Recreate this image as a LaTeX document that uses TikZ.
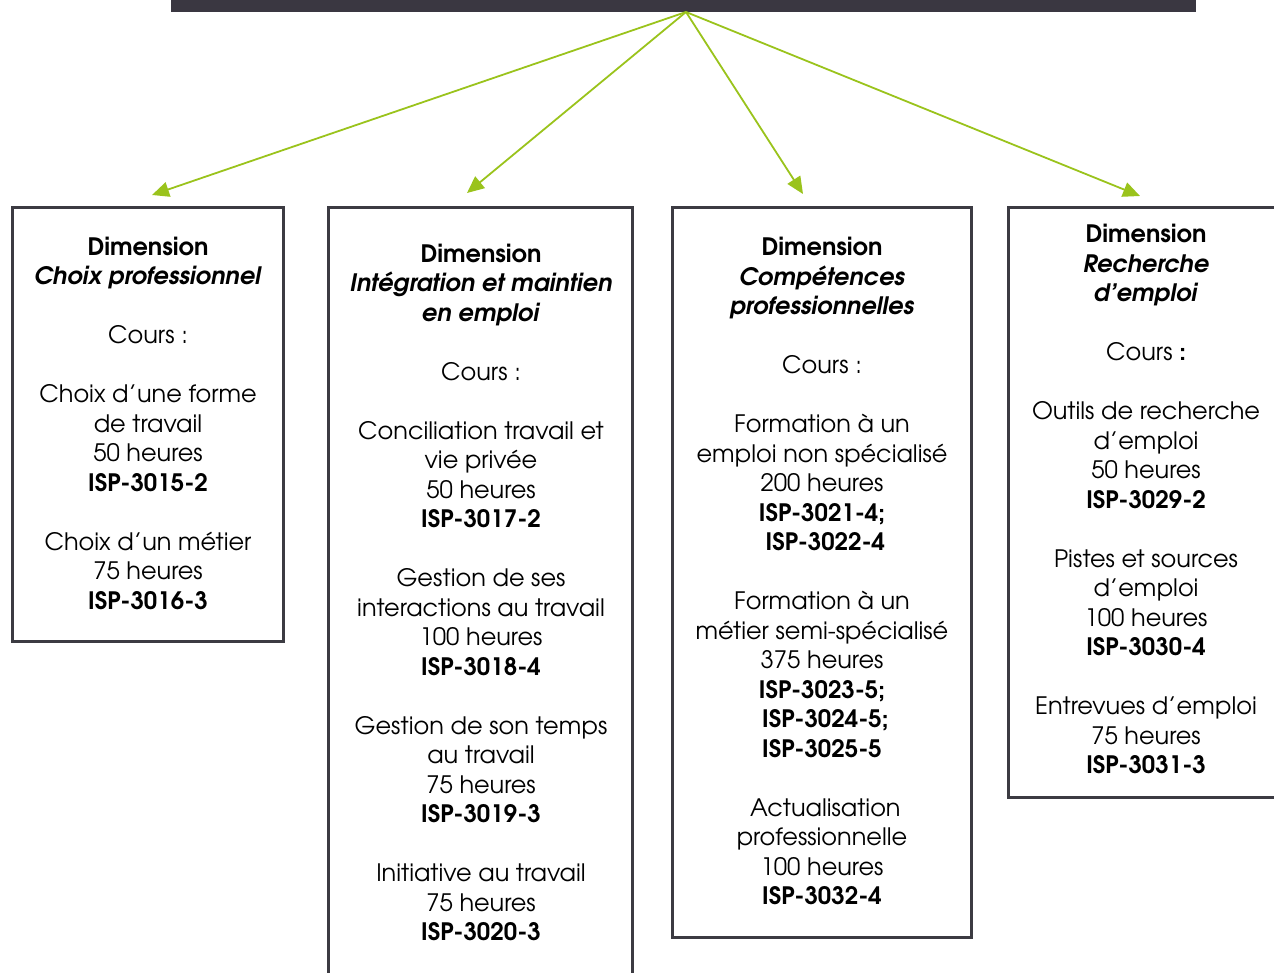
\documentclass[tikz,border=0pt]{standalone}
\usepackage{fontspec}
\setmainfont{TeX Gyre Adventor}
\usetikzlibrary{arrows.meta}
\definecolor{barc}{HTML}{3A3741}
\definecolor{arrc}{HTML}{9AC31C}
\definecolor{framec}{HTML}{3C3B42}
\begin{document}
\begin{tikzpicture}[x=1pt,y=-1pt,
  boxframe/.style={draw=framec,line width=3.5pt,fill=none,inner sep=0pt},
  txt/.style={align=center,anchor=base,font=\fontsize{24}{29.5}\selectfont,inner sep=0pt},
  conn/.style={draw=arrc,line width=1.8pt,-{Triangle[length=17pt,width=15pt]}}]
\useasboundingbox (0,0) rectangle (1274,972);
% top bar
\fill[barc] (171,0) rectangle (1196,12);
\coordinate (src) at (686,12);
% boxes
\node[boxframe,minimum width=271pt,minimum height=434pt] (b1) at (148,424.5) {};
\node[boxframe,minimum width=304pt,minimum height=782.5pt] (b2) at (480.5,598.75) {};
\node[boxframe,minimum width=299pt,minimum height=730pt] (b3) at (822,572.5) {};
\node[boxframe,minimum width=281.5pt,minimum height=590pt] (b4) at (1149.25,502.5) {};
% arrow tips
\coordinate (a1) at (152,195);
\coordinate (a2) at (467,193);
\coordinate (a3) at (803,194);
\coordinate (a4) at (1140,196);
\draw[conn] (src) -- (a1);
\draw[conn] (src) -- (a2);
\draw[conn] (src) -- (a3);
\draw[conn] (src) -- (a4);
% texts (anchor base = baseline of the last line)
\node[txt] (t1) at (148,609) {\textbf{Dimension}\\ \textbf{\textit{Choix professionnel}}\\[29.5pt]
Cours :\\[29.5pt]
Choix d’une forme\\ de travail\\ 50 heures\\ \textbf{ISP-3015-2}\\[29.5pt]
Choix d’un métier\\ 75 heures\\ \textbf{ISP-3016-3}};
\node[txt] (t2) at (481,940.5) {\textbf{Dimension}\\ \textbf{\textit{Intégration et maintien}}\\ \textbf{\textit{en emploi}}\\[29.5pt]
Cours :\\[29.5pt]
Conciliation travail et\\ vie privée\\ 50 heures\\ \textbf{ISP-3017-2}\\[29.5pt]
Gestion de ses\\ interactions au travail\\ 100 heures\\ \textbf{ISP-3018-4}\\[29.5pt]
Gestion de son temps\\ au travail\\ 75 heures\\ \textbf{ISP-3019-3}\\[29.5pt]
Initiative au travail\\ 75 heures\\ \textbf{ISP-3020-3}};
\node[txt] (t3) at (822,904.5) {\textbf{Dimension}\\ \textbf{\textit{Compétences}}\\ \textbf{\textit{professionnelles}}\\[29.5pt]
Cours :\\[29.5pt]
Formation à un\\ emploi non spécialisé\\ 200 heures\\ \textbf{ISP-3021-4;}\\ \hspace*{0.28em}\textbf{ISP-3022-4}\\[29.5pt]
Formation à un\\ métier semi-spécialisé\\ 375 heures\\ \textbf{ISP-3023-5;}\\ \hspace*{0.28em}\textbf{ISP-3024-5;}\\ \textbf{ISP-3025-5}\\[29.5pt]
\hspace*{0.28em}Actualisation\\ professionnelle\\ 100 heures\\ \textbf{ISP-3032-4}};
\node[txt] (t4) at (1146,773.5) {\textbf{Dimension}\\ \textbf{\textit{Recherche}}\\ \textbf{\textit{d’emploi}}\\[29.5pt]
Cours \textbf{:}\\[29.5pt]
Outils de recherche\\ d’emploi\\ 50 heures\\ \textbf{ISP-3029-2}\\[29.5pt]
Pistes et sources\\ d’emploi\\ 100 heures\\ \textbf{ISP-3030-4}\\[29.5pt]
Entrevues d’emploi\\ 75 heures\\ \textbf{ISP-3031-3}};
\end{tikzpicture}
\end{document}
